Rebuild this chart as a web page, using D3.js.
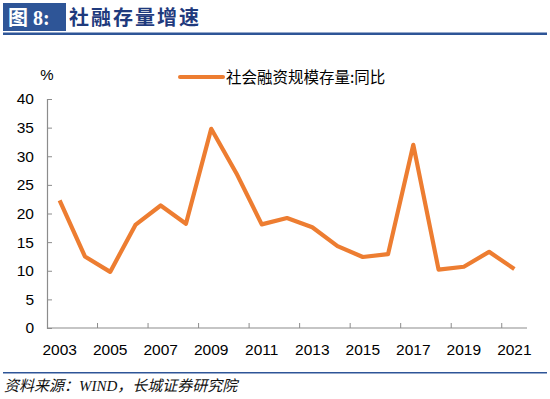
<!DOCTYPE html>
<html>
<head>
<meta charset="utf-8">
<script src="https://cdn.jsdelivr.net/npm/d3@7"></script>
<style>
  body { margin: 0; background: #fff; }
  svg { display: block; }
</style>
</head>
<body>
<div id="chart"></div>
<script>
// 社融存量增速 - line chart

const years = ["2003","2004","2005","2006","2007","2008","2009","2010","2011","2012",
               "2013","2014","2015","2016","2017","2018","2019","2020","2021"];
const growth = [22.3, 12.5, 9.8, 18.0, 21.4, 18.2, 34.8, 27.0, 18.1, 19.2,
                17.6, 14.3, 12.4, 12.9, 32.0, 10.2, 10.7, 13.3, 10.3];
const yTicks = [0, 5, 10, 15, 20, 25, 30, 35, 40];
const xLabels = ["2003","2005","2007","2009","2011","2013","2015","2017","2019","2021"];

const seriesName = "社会融资规模存量:同比";
const width = 550, height = 399;
const margin = { top: 99, right: 23, bottom: 71, left: 47 };
const plot_width  = width  - margin.left - margin.right;
const plot_height = height - margin.top  - margin.bottom;

const orange = "#ED7D31";
const axisGray = "#8c8c8c";
const numFont = "'Liberation Sans', Arial, sans-serif";
const cjkFont = "'Noto Sans CJK SC', sans-serif";

const canvas = d3.select("#chart").append("svg")
  .attr("width", width)
  .attr("height", height);

// ── Header ───────────────────────────────────────────────────────────────
canvas.append("rect")
  .attr("x", 3).attr("y", 3)
  .attr("width", 63).attr("height", 28)
  .attr("fill", "#2E5597");

canvas.append("text")
  .attr("x", 8).attr("y", 25)
  .attr("fill", "#fff")
  .style("font-family", "'Liberation Serif', 'Noto Sans CJK SC', serif")
  .style("font-weight", "bold")
  .style("font-size", "20px")
  .text("图 8:");

canvas.append("text")
  .attr("x", 69).attr("y", 25)
  .attr("fill", "#1F3A7D")
  .style("font-family", cjkFont)
  .style("font-weight", "bold")
  .style("font-size", "20px")
  .style("letter-spacing", "2px")
  .text("社融存量增速");

canvas.append("rect")
  .attr("x", 3).attr("y", 32.5)
  .attr("width", 544).attr("height", 2.5)
  .attr("fill", "#2E5597");

// ── Footer ───────────────────────────────────────────────────────────────
canvas.append("rect")
  .attr("x", 3).attr("y", 372)
  .attr("width", 544).attr("height", 1.5)
  .attr("fill", "#2E5597");

canvas.append("text")
  .attr("x", 4).attr("y", 391)
  .attr("fill", "#111")
  .style("font-family", "'Liberation Serif', 'Noto Sans CJK SC', serif")
  .style("font-style", "italic")
  .style("font-size", "15px")
  .text("资料来源：WIND，长城证券研究院");

// ── Plot ─────────────────────────────────────────────────────────────────
const plot = canvas.append("g")
  .attr("transform", `translate(${margin.left}, ${margin.top})`);

const x = d3.scaleBand().domain(years).range([0, plot_width]);
const y = d3.scaleLinear().domain([0, 40]).range([plot_height, 0]);

// y axis
const yAxis = plot.append("g")
  .call(d3.axisLeft(y).tickValues(yTicks).tickSize(-5).tickPadding(13));
yAxis.select(".domain").attr("stroke", axisGray).attr("stroke-width", 1.2);
yAxis.selectAll(".tick line").attr("stroke", axisGray);
yAxis.selectAll("text")
  .attr("fill", "#000")
  .style("font-family", numFont)
  .style("font-size", "15.5px");

// x axis: ticks at every second band boundary, labels on odd years
const xAxis = plot.append("g")
  .attr("transform", `translate(0, ${plot_height})`);
xAxis.append("line")
  .attr("x1", 0).attr("x2", plot_width)
  .attr("stroke", axisGray).attr("stroke-width", 1.2);
years.forEach((yr, i) => {
  if (i > 0 && i % 2 === 0) {
    xAxis.append("line")
      .attr("x1", x(yr)).attr("x2", x(yr))
      .attr("y1", 0).attr("y2", -5)
      .attr("stroke", axisGray);
  }
});
xAxis.selectAll("text.xlab")
  .data(xLabels)
  .join("text")
  .attr("class", "xlab")
  .attr("x", d => x(d) + x.bandwidth() / 2)
  .attr("y", 27)
  .attr("text-anchor", "middle")
  .attr("fill", "#000")
  .style("font-family", numFont)
  .style("font-size", "15.5px")
  .text(d => d);

// unit label
plot.append("text")
  .attr("x", 0).attr("y", -19)
  .attr("text-anchor", "middle")
  .attr("fill", "#000")
  .style("font-family", numFont)
  .style("font-size", "15px")
  .text("%");

// line
const line = d3.line()
  .x((d, i) => x(years[i]) + x.bandwidth() / 2)
  .y(d => y(d));

plot.append("path")
  .datum(growth)
  .attr("fill", "none")
  .attr("stroke", orange)
  .attr("stroke-width", 4.2)
  .attr("stroke-linejoin", "round")
  .attr("d", line);

// legend
const legend = canvas.append("g").attr("transform", "translate(180, 77)");
legend.append("line")
  .attr("x1", 0).attr("x2", 43)
  .attr("stroke", orange)
  .attr("stroke-width", 4)
  .attr("stroke-linecap", "round");
legend.append("text")
  .attr("x", 46).attr("y", 5.5)
  .attr("fill", "#000")
  .style("font-family", cjkFont)
  .style("font-size", "15.5px")
  .text(seriesName);
</script>
</body>
</html>
